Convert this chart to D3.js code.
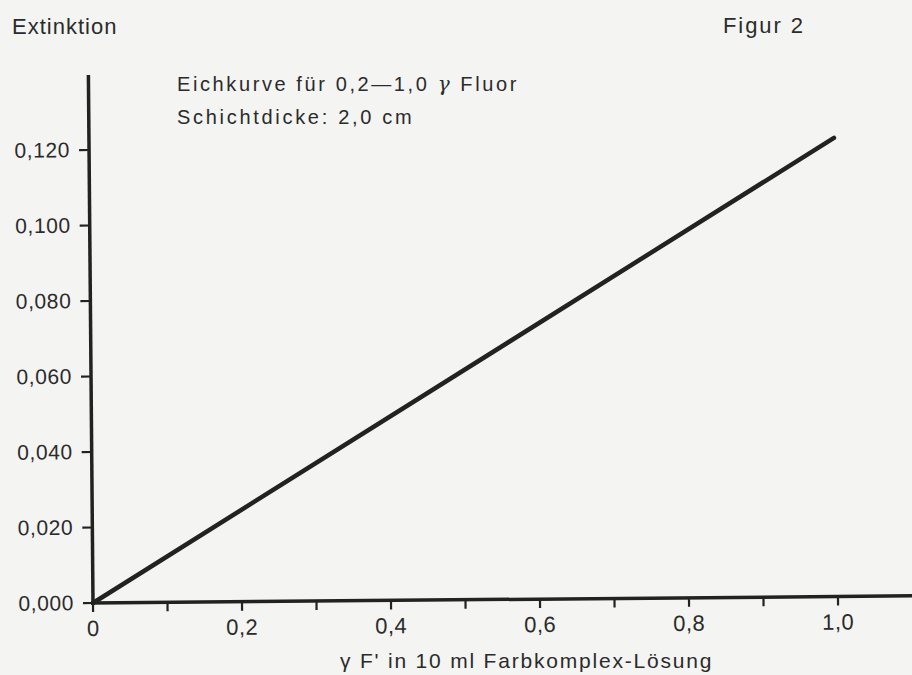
<!DOCTYPE html>
<html>
<head>
<meta charset="utf-8">
<script src="https://cdn.jsdelivr.net/npm/d3@7"></script>
<style>
  body { margin: 0; background: #f4f4f2; }
  svg { display: block; }
  text { font-family: "Liberation Sans", Arial, sans-serif; fill: #2b2b2b; }
</style>
</head>
<body>
<svg id="chart"></svg>
<script>
// data
const xValues = [0, 1.0];
const yValues = [0, 0.1215];
const xTicks = [0, 0.2, 0.4, 0.6, 0.8, 1.0];
const xMinorTicks = [0.1, 0.3, 0.5, 0.7, 0.9];
const yTicks = [0, 0.02, 0.04, 0.06, 0.08, 0.1, 0.12];

const width = 912, height = 675;
const svg = d3.select('#chart').attr('width', width).attr('height', height);

const x = d3.scaleLinear().domain([0, 1.0]).range([93, 838]);
const y = d3.scaleLinear().domain([0, 0.12]).range([603, 150]);

const fmtX = d => d === 0 ? '0' : d3.format('.1f')(d).replace('.', ',');
const fmtY = d => d3.format('.3f')(d).replace('.', ',');

const ink = '#222';

// the scanned figure is slightly rotated
const plot = svg.append('g')
    .attr('transform', `rotate(-0.5, ${x(0)}, ${y(0)})`);

// x axis
const xAxis = plot.append('g').attr('transform', `translate(0,${y(0)})`);
xAxis.append('line')
    .attr('x1', x(0) - 2).attr('x2', width + 10)
    .attr('stroke', ink).attr('stroke-width', 3.5);
xAxis.selectAll('.tick')
    .data(xTicks.concat(xMinorTicks))
    .enter().append('line')
    .attr('x1', d => x(d)).attr('x2', d => x(d))
    .attr('y1', 0).attr('y2', 9)
    .attr('stroke', ink).attr('stroke-width', 2.2);
xAxis.selectAll('.lbl')
    .data(xTicks)
    .enter().append('text')
    .attr('x', d => x(d)).attr('y', 33)
    .attr('text-anchor', 'middle')
    .style('font-size', '22px')
    .style('letter-spacing', '0.5px')
    .text(fmtX);

// y axis
const yAxis = plot.append('g').attr('transform', `translate(${x(0)},0)`);
yAxis.append('line')
    .attr('y1', 75).attr('y2', y(0) + 2)
    .attr('stroke', ink).attr('stroke-width', 3.5);
yAxis.selectAll('.tick')
    .data(yTicks)
    .enter().append('line')
    .attr('x1', -10).attr('x2', 0)
    .attr('y1', d => y(d)).attr('y2', d => y(d))
    .attr('stroke', ink).attr('stroke-width', 2.2);
yAxis.selectAll('.lbl')
    .data(yTicks)
    .enter().append('text')
    .attr('x', -19).attr('y', d => y(d) + 7)
    .attr('text-anchor', 'end')
    .style('font-size', '21px')
    .style('letter-spacing', '0.6px')
    .text(fmtY);

// calibration line
const line = d3.line().x(d => x(d[0])).y(d => y(d[1]));
plot.append('path')
    .datum(d3.zip(xValues, yValues))
    .attr('d', line)
    .attr('fill', 'none')
    .attr('stroke', ink)
    .attr('stroke-width', 4.5)
    .attr('stroke-linecap', 'round');

// texts
svg.append('text').attr('x', 12).attr('y', 34)
    .style('font-size', '22px').style('letter-spacing', '1px').text('Extinktion');
svg.append('text').attr('x', 723).attr('y', 33)
    .style('font-size', '22px').style('letter-spacing', '1.9px').text('Figur 2');

const note = svg.append('text').attr('x', 177).attr('y', 91)
    .style('font-size', '20px').style('letter-spacing', '2.6px');
note.append('tspan').text('Eichkurve für 0,2—1,0 ');
note.append('tspan').style('font-style', 'italic').style('font-family', '"DejaVu Serif", serif').text('γ');
note.append('tspan').text(' Fluor');

svg.append('text').attr('x', 177).attr('y', 124)
    .style('font-size', '20px').style('letter-spacing', '2.7px')
    .text('Schichtdicke: 2,0 cm');

svg.append('text').attr('x', 340).attr('y', 668)
    .style('font-size', '21px').style('letter-spacing', '1.8px')
    .text("γ F' in 10 ml Farbkomplex-Lösung");
</script>
</body>
</html>
